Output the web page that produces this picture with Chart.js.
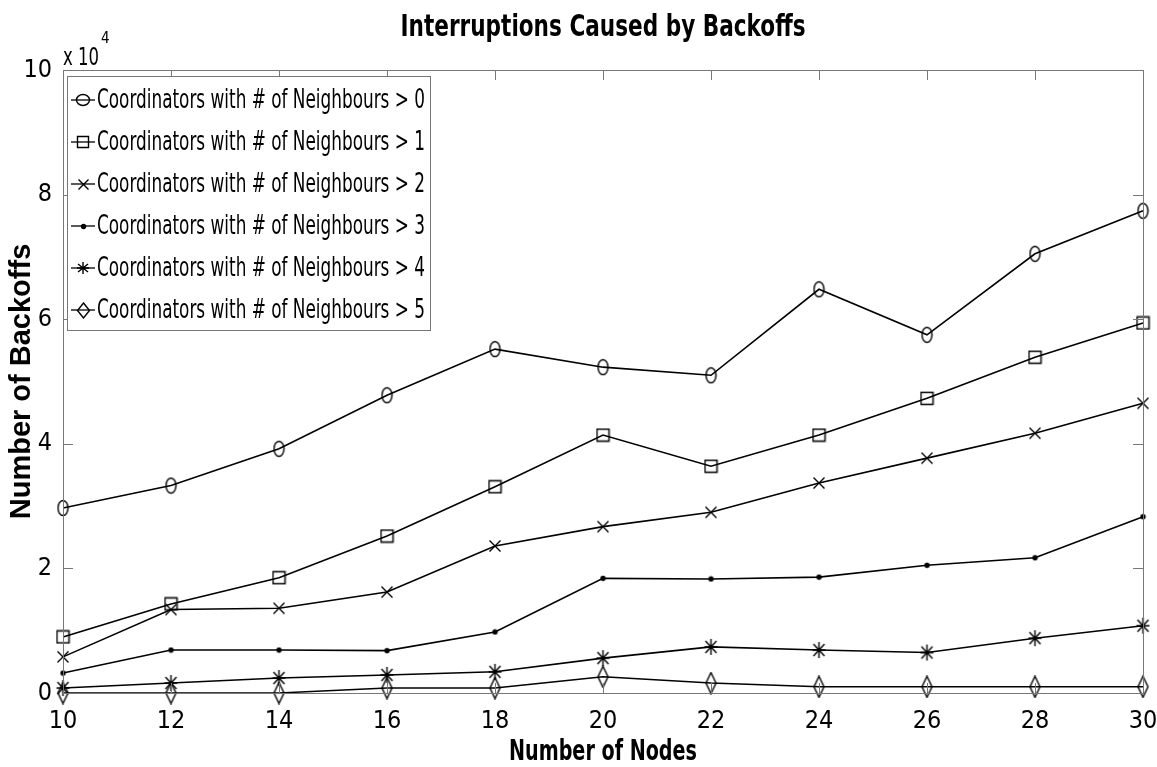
<!DOCTYPE html>
<html lang="en">
<head>
<meta charset="UTF-8">
<title>Interruptions Caused by Backoffs</title>
<script src="https://cdn.jsdelivr.net/npm/chart.js"></script>
<style>
    html, body {
        margin: 0;
        padding: 0;
        background: #fff;
    }
</style>
</head>
<body>
<canvas id="backoffChart" width="1157" height="767"></canvas>

<script>
    // values in units of 10^4 backoffs
    const nodes = [10, 12, 14, 16, 18, 20, 22, 24, 26, 28, 30];
    const neighbours0 = [2.97, 3.33, 3.92, 4.78, 5.52, 5.23, 5.10, 6.48, 5.75, 7.05, 7.74];
    const neighbours1 = [0.90, 1.43, 1.85, 2.52, 3.31, 4.14, 3.64, 4.14, 4.73, 5.39, 5.94];
    const neighbours2 = [0.58, 1.34, 1.36, 1.62, 2.36, 2.67, 2.90, 3.37, 3.77, 4.17, 4.65];
    const neighbours3 = [0.32, 0.69, 0.69, 0.68, 0.98, 1.84, 1.83, 1.86, 2.05, 2.17, 2.83];
    const neighbours4 = [0.08, 0.16, 0.24, 0.29, 0.34, 0.56, 0.74, 0.69, 0.65, 0.88, 1.08];
    const neighbours5 = [0.00, 0.00, 0.00, 0.08, 0.08, 0.26, 0.16, 0.10, 0.10, 0.10, 0.10];
    const seriesLabels = [
        "Coordinators with # of Neighbours > 0",
        "Coordinators with # of Neighbours > 1",
        "Coordinators with # of Neighbours > 2",
        "Coordinators with # of Neighbours > 3",
        "Coordinators with # of Neighbours > 4",
        "Coordinators with # of Neighbours > 5"
    ];
    const xTicks = [10, 12, 14, 16, 18, 20, 22, 24, 26, 28, 30];
    const yTicks = [0, 2, 4, 6, 8, 10];

    const narrow = "'Liberation Sans Narrow', 'DejaVu Sans Condensed', Arial, sans-serif";

    // small canvases used as MATLAB-like markers
    function makeMarker(kind, w, h) {
        const c = document.createElement('canvas');
        c.width = w;
        c.height = h;
        const g = c.getContext('2d');
        g.strokeStyle = '#000';
        g.fillStyle = '#000';
        g.lineWidth = 1.4;
        const cx = w / 2, cy = h / 2;
        g.beginPath();
        if (kind === 'circle') {
            g.ellipse(cx, cy, w / 2 - 1.5, h / 2 - 1.5, 0, 0, Math.PI * 2);
        } else if (kind === 'square') {
            g.rect(1.5, 1.5, w - 3, h - 3);
        } else if (kind === 'x') {
            g.moveTo(1.5, 1.5); g.lineTo(w - 1.5, h - 1.5);
            g.moveTo(w - 1.5, 1.5); g.lineTo(1.5, h - 1.5);
        } else if (kind === 'dot') {
            g.arc(cx, cy, 2, 0, Math.PI * 2);
            g.fill();
        } else if (kind === 'star') {
            g.moveTo(cx, 1); g.lineTo(cx, h - 1);
            g.moveTo(1, cy); g.lineTo(w - 1, cy);
            g.moveTo(2, 3); g.lineTo(w - 2, h - 3);
            g.moveTo(w - 2, 3); g.lineTo(2, h - 3);
        } else if (kind === 'diamond') {
            g.moveTo(cx, 1); g.lineTo(w - 1.5, cy);
            g.lineTo(cx, h - 1); g.lineTo(1.5, cy);
            g.closePath();
        }
        g.stroke();
        return c;
    }

    const plotMarkers = [
        makeMarker('circle', 13, 18), makeMarker('square', 15, 15), makeMarker('x', 14, 14),
        makeMarker('dot', 7, 7), makeMarker('star', 15, 18), makeMarker('diamond', 13, 23)
    ];
    const legendMarkers = [
        makeMarker('circle', 16, 14), makeMarker('square', 14, 14), makeMarker('x', 13, 13),
        makeMarker('dot', 7, 7), makeMarker('star', 14, 14), makeMarker('diamond', 15, 17)
    ];

    const seriesValues = [neighbours0, neighbours1, neighbours2, neighbours3, neighbours4, neighbours5];

    // inward tick marks, box, exponent and condensed titles
    const axesBox = {
        id: 'axesBox',
        afterDatasetsDraw(chart) {
            const {ctx, chartArea: a, scales} = chart;
            ctx.save();
            ctx.strokeStyle = '#777';
            ctx.lineWidth = 1;
            ctx.strokeRect(a.left + 0.5, a.top + 0.5, a.right - a.left, a.bottom - a.top);
            ctx.beginPath();
            xTicks.forEach(v => {
                const px = Math.round(scales.x.getPixelForValue(v)) + 0.5;
                ctx.moveTo(px, a.bottom); ctx.lineTo(px, a.bottom - 10);
                ctx.moveTo(px, a.top); ctx.lineTo(px, a.top + 10);
            });
            yTicks.forEach(v => {
                const py = Math.round(scales.y.getPixelForValue(v)) + 0.5;
                ctx.moveTo(a.left, py); ctx.lineTo(a.left + 10, py);
                ctx.moveTo(a.right, py); ctx.lineTo(a.right - 10, py);
            });
            ctx.stroke();

            ctx.fillStyle = '#000';
            ctx.textBaseline = 'alphabetic';
            ctx.font = '24px ' + narrow;
            ctx.fillText('x 10', a.left, a.top - 5, 36);
            ctx.font = '15px ' + narrow;
            ctx.fillText('4', a.left + 38, a.top - 27);

            const midX = (a.left + a.right) / 2;
            ctx.textAlign = 'center';
            ctx.textBaseline = 'middle';
            ctx.font = 'bold 31px ' + narrow;
            ctx.fillText('Interruptions Caused by Backoffs', midX, 28, 405);
            ctx.font = 'bold 28px ' + narrow;
            ctx.fillText('Number of Nodes', midX, 753, 188);
            ctx.restore();
        }
    };

    const legendBox = {
        id: 'legendBox',
        afterDatasetsDraw(chart) {
            const {ctx, chartArea: a} = chart;
            const x0 = a.left + 4, y0 = a.top + 6, w = 363, h = 254, row = 42;
            ctx.save();
            ctx.fillStyle = '#fff';
            ctx.fillRect(x0, y0, w, h);
            ctx.strokeStyle = '#777';
            ctx.lineWidth = 1;
            ctx.strokeRect(x0 + 0.5, y0 + 0.5, w, h);
            ctx.font = '26px ' + narrow;
            ctx.textBaseline = 'middle';
            chart.data.datasets.forEach((ds, i) => {
                const cy = y0 + 24 + i * row;
                ctx.strokeStyle = '#000';
                ctx.lineWidth = 1.3;
                ctx.beginPath();
                ctx.moveTo(x0 + 4, cy);
                ctx.lineTo(x0 + 28, cy);
                ctx.stroke();
                const m = legendMarkers[i];
                ctx.drawImage(m, Math.round(x0 + 16 - m.width / 2), Math.round(cy - m.height / 2));
                ctx.fillStyle = '#000';
                ctx.fillText(ds.label, x0 + 30, cy + 1, 328);
            });
            ctx.restore();
        }
    };

    new Chart(document.getElementById('backoffChart'), {
        type: 'line',
        data: {
            labels: nodes,
            datasets: seriesValues.map((vals, i) => ({
                label: seriesLabels[i],
                data: vals.map((v, j) => ({x: nodes[j], y: v})),
                borderColor: '#000',
                borderWidth: 1.6,
                pointStyle: plotMarkers[i],
                pointRadius: 6,
                tension: 0,
                fill: false,
                clip: false
            }))
        },
        options: {
            responsive: false,
            animation: false,
            events: [],
            layout: {
                padding: {left: 0, right: 14, top: 70, bottom: 0}
            },
            plugins: {
                legend: {display: false},
                tooltip: {enabled: false},
                title: {display: false}
            },
            scales: {
                x: {
                    type: 'linear',
                    min: 10,
                    max: 30,
                    ticks: {stepSize: 2, color: '#000', padding: 5, font: {family: narrow, size: 25}},
                    grid: {display: false},
                    border: {display: false},
                    afterFit(scale) {
                        scale.height = 74;
                        scale.paddingLeft = 0;
                        scale.paddingRight = 0;
                    }
                },
                y: {
                    type: 'linear',
                    min: 0,
                    max: 10,
                    ticks: {stepSize: 2, color: '#000', padding: 3, font: {family: narrow, size: 25}},
                    grid: {display: false},
                    border: {display: false},
                    title: {
                        display: true,
                        text: 'Number of Backoffs',
                        color: '#000',
                        font: {family: "'Liberation Sans', Arial, sans-serif", size: 29, weight: 'bold', lineHeight: 1},
                        padding: {top: 7, bottom: 0}
                    },
                    afterFit(scale) {
                        scale.width = 63;
                        scale.paddingTop = 0;
                        scale.paddingBottom = 0;
                    }
                }
            }
        },
        plugins: [axesBox, legendBox]
    });
</script>
</body>
</html>
